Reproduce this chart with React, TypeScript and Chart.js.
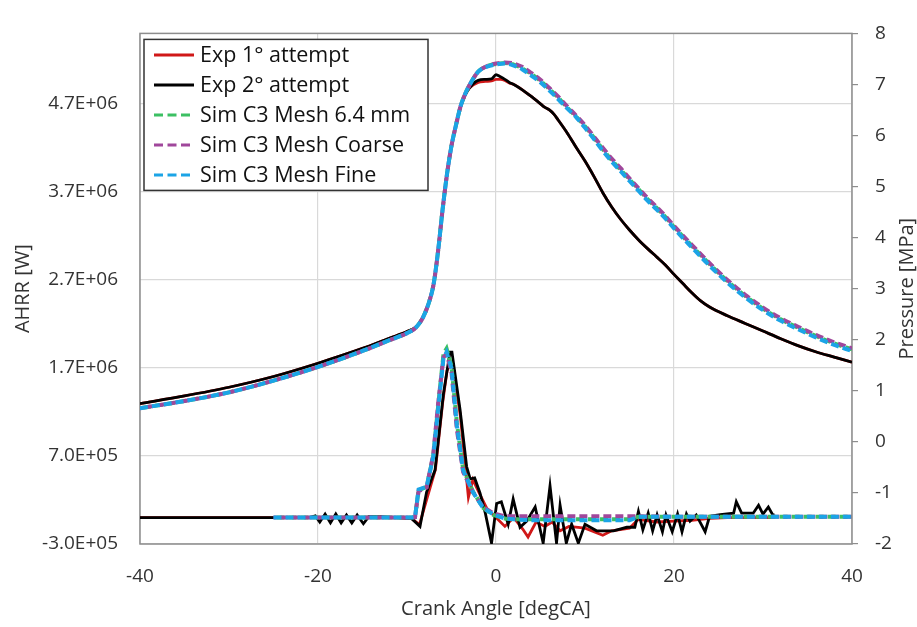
import React, { useEffect, useRef } from 'react';
import { Chart, registerables } from 'chart.js';

Chart.register(...registerables);

const FONT = "'Open Sans', 'Noto Sans', sans-serif";

// ---------- Legend / series ----------
const seriesLabels = ['Exp 1° attempt', 'Exp 2° attempt', 'Sim C3 Mesh 6.4 mm', 'Sim C3 Mesh Coarse', 'Sim C3 Mesh Fine'];
const seriesColors = ['#d01818', '#000000', '#3cc063', '#a0479b', '#1ba4e6'];
const seriesDashed = [false, false, true, true, true];

// ---------- Axis ticks ----------
const ahrrTicks = [-3e5, 7e5, 1.7e6, 2.7e6, 3.7e6, 4.7e6];
const xTicks = [-40, -20, 0, 20, 40];

// ---------- Pressure [MPa] (right axis) ----------
const expPAngles = [-40, -35, -30, -25, -20, -15, -12, -10, -9, -8.2, -7.5, -7, -6.5, -6, -5.5, -5, -4.5, -4, -3.5, -3, -2, -1.2, -0.5, 0, 0.5, 1, 1.5, 2, 3, 4, 5, 5.5, 6, 6.5, 7, 8, 9, 10, 11, 12, 13, 14, 15, 16, 17, 18, 19, 20, 21, 22, 23, 24, 26, 28, 30, 32, 34, 36, 38, 40];
const exp1Pressure = [0.75, 0.9, 1.07, 1.28, 1.54, 1.83, 2.03, 2.16, 2.25, 2.44, 2.75, 3.1, 3.75, 4.55, 5.25, 5.8, 6.2, 6.55, 6.78, 6.93, 7.04, 7.06, 7.07, 7.1, 7.1, 7.08, 7.03, 7.0, 6.89, 6.76, 6.62, 6.55, 6.5, 6.42, 6.3, 6.05, 5.77, 5.5, 5.2, 4.88, 4.6, 4.36, 4.15, 3.96, 3.79, 3.63, 3.47, 3.28, 3.1, 2.92, 2.76, 2.64, 2.47, 2.32, 2.17, 2.02, 1.88, 1.76, 1.66, 1.56];
const exp2Pressure = [0.75, 0.9, 1.07, 1.28, 1.54, 1.83, 2.03, 2.16, 2.25, 2.44, 2.75, 3.1, 3.75, 4.55, 5.25, 5.8, 6.2, 6.55, 6.78, 6.93, 7.08, 7.1, 7.11, 7.19, 7.15, 7.1, 7.04, 7.0, 6.89, 6.76, 6.62, 6.55, 6.5, 6.42, 6.3, 6.05, 5.77, 5.5, 5.2, 4.88, 4.6, 4.36, 4.15, 3.96, 3.79, 3.63, 3.47, 3.28, 3.1, 2.92, 2.76, 2.64, 2.47, 2.32, 2.17, 2.02, 1.88, 1.76, 1.66, 1.56];

const simPAngles = [-40, -35, -30, -25, -20, -15, -12, -10, -9, -8.2, -7.5, -7, -6.5, -6, -5.5, -5, -4.5, -4, -3.5, -3, -2, -1, 0, 1, 2, 3, 4, 5, 6, 7, 8, 9, 10, 11, 12, 13, 14, 15, 16, 17, 18, 19, 20, 22, 24, 26, 28, 30, 32, 34, 36, 38, 40];
const sim64Pressure = [0.66, 0.8, 0.97, 1.2, 1.47, 1.78, 1.99, 2.13, 2.24, 2.44, 2.75, 3.1, 3.75, 4.55, 5.25, 5.8, 6.2, 6.56, 6.8, 6.98, 7.25, 7.36, 7.4, 7.42, 7.39, 7.31, 7.2, 7.07, 6.91, 6.74, 6.55, 6.37, 6.18, 5.96, 5.73, 5.52, 5.33, 5.14, 4.95, 4.76, 4.59, 4.41, 4.21, 3.84, 3.48, 3.15, 2.86, 2.61, 2.4, 2.23, 2.07, 1.93, 1.81];
const simCoarsePressure = [0.66, 0.8, 0.97, 1.2, 1.47, 1.78, 1.99, 2.13, 2.24, 2.44, 2.75, 3.1, 3.75, 4.55, 5.25, 5.8, 6.2, 6.56, 6.8, 6.98, 7.25, 7.36, 7.41, 7.43, 7.41, 7.34, 7.22, 7.09, 6.93, 6.76, 6.57, 6.39, 6.2, 5.98, 5.76, 5.55, 5.36, 5.16, 4.97, 4.78, 4.61, 4.43, 4.23, 3.86, 3.5, 3.17, 2.88, 2.63, 2.42, 2.25, 2.09, 1.95, 1.83];
const simFinePressure = [0.66, 0.8, 0.97, 1.2, 1.47, 1.78, 1.99, 2.13, 2.24, 2.44, 2.75, 3.1, 3.75, 4.55, 5.25, 5.8, 6.2, 6.56, 6.8, 6.98, 7.25, 7.35, 7.39, 7.41, 7.37, 7.29, 7.17, 7.04, 6.88, 6.71, 6.53, 6.36, 6.15, 5.93, 5.7, 5.49, 5.3, 5.11, 4.92, 4.73, 4.56, 4.38, 4.18, 3.81, 3.45, 3.12, 2.83, 2.58, 2.37, 2.2, 2.04, 1.9, 1.78];

// ---------- AHRR [W] (left axis) ----------
const exp1AAngles = [-40, -25, -20, -15, -12, -9.5, -8.6, -7.8, -6.8, -6.0, -5.5, -5.1, -4.8, -4.0, -3.1, -2.6, -1.8, -1.0, 0, 1.0, 2.0, 3.0, 3.6, 4.5, 5.5, 6.3, 7.2, 8.2, 10, 12, 13, 15, 16, 18, 20, 22, 24, 26, 31.3];
const exp1AHRR = [0, 0, 0, 0, 0, -1e4, -8e4, 2e5, 5.5e5, 1.3e6, 1.67e6, 1.75e6, 1.7e6, 1.15e6, 2.3e5, 4.3e5, 2.6e5, 1e5, 0, -1e5, 0, -1.3e5, -2.2e5, -5e4, -1e5, -5e4, -1.5e5, -1e5, -1.2e5, -2e5, -1.5e5, -1.2e5, -2e4, -5e4, -4e4, -3e4, -1e4, 0, 0];

const exp2AAngles = [-40, -25, -21, -20.3, -19.8, -19.2, -18.6, -18.0, -17.4, -16.8, -16.2, -15.6, -14.9, -14.3, -13, -11, -9.5, -8.54, -7.8, -6.85, -5.9, -5.17, -4.95, -4.04, -3.3, -2.9, -2.4, -1.8, -1.2, -0.5, 0.07, 0.6, 1.37, 1.93, 2.7, 3.45, 4.4, 5.3, 6.07, 6.8, 7.2, 7.9, 8.5, 9.25, 10.0, 11.3, 13.2, 14.7, 15.6, 16.0, 16.5, 17.1, 17.6, 18.1, 18.7, 19.1, 19.8, 20.4, 20.9, 21.4, 21.8, 22.5, 23.5, 24.0, 25.2, 26.7, 27.0, 27.6, 28.9, 29.5, 30.0, 30.6, 31.1, 31.3];
const exp2AHRR = [0, 0, 0, 2e4, -5e4, 4e4, -6e4, 4e4, -6e4, 3e4, -6e4, 3e4, -7e4, 1e4, 1e4, 0, -1e4, -1e5, 2.9e5, 5.4e5, 1.41e6, 1.88e6, 1.88e6, 1.23e6, 5.8e5, 4.4e5, 4.5e5, 2.8e5, 5e4, -2.9e5, 1.6e5, 1.8e5, -7.5e4, 2.1e5, -1.1e5, -4e4, 1.2e5, -2.9e5, 3.6e5, -2.9e5, 1.4e5, -2.9e5, -7.5e4, -2.9e5, -7.5e4, -1.5e5, -1.5e5, -1.1e5, -1.1e5, 7e4, -1.4e5, 5e4, -1.5e5, 3e4, -1.6e5, 3e4, -1.6e5, 4e4, -1.6e5, 4e4, -4e4, 3e4, -1.6e5, 1.5e4, 3.3e4, 5e4, 1.8e5, 5e4, 5e4, 1.4e5, 4e4, 1.2e5, 3e4, 3e4];

const simAAngles = [-25, -20, -15, -12, -9.5, -9.1, -8.7, -7.8, -7.05, -6.5, -5.9, -5.55, -5.0, -4.4, -3.7, -2.6, -1.45, -0.3, 1, 2, 4, 8, 12, 15, 16, 20, 25, 30, 35, 40];
const sim64AHRR = [0, 0, 0, 0, 0, 5e3, 3.1e5, 3.5e5, 7.0e5, 1.27e6, 1.86e6, 1.92e6, 1.72e6, 1.08e6, 5.5e5, 3.0e5, 1.1e5, 3e4, -1e4, -2e4, -2e4, -2e4, -2e4, -2e4, 1e4, 1e4, 1e4, 1e4, 1e4, 1e4];
const simCoarseAHRR = [0, 0, 0, 0, 0, 5e3, 3.0e5, 3.4e5, 7.2e5, 1.3e6, 1.82e6, 1.86e6, 1.65e6, 1.0e6, 5.2e5, 2.9e5, 1.2e5, 5e4, 1.5e4, 1.5e4, 1.5e4, 1.5e4, 1.5e4, 1.5e4, 1.5e4, 1e4, 1e4, 1e4, 1e4, 1e4];
const simFineAHRR = [0, 0, 0, 0, 0, 5e3, 3.2e5, 3.5e5, 6.9e5, 1.23e6, 1.81e6, 1.88e6, 1.7e6, 1.05e6, 5.4e5, 2.9e5, 1.1e5, 3.6e4, -1e4, -2e4, -3e4, -3e4, -3e4, -3e4, 1e4, 1e4, 1e4, 1e4, 1e4, 1e4];

const pts = (xs: number[], ys: number[]) => xs.map((x, i) => ({ x, y: ys[i] }));

const fmtE = (v: number) => {
  const [m, e] = Number(v).toExponential(1).split('e');
  const sign = e[0] === '-' ? '-' : '+';
  const digits = e.replace(/^[+-]/, '').padStart(2, '0');
  return `${m}E${sign}${digits}`;
};

const DASH = [8, 4];

function makeSet(idx: number, data: { x: number; y: number }[], axis: string, order: number, smooth: boolean, dashOffset = 0) {
  return {
    label: seriesLabels[idx],
    data,
    yAxisID: axis,
    borderColor: seriesColors[idx],
    backgroundColor: seriesColors[idx],
    borderWidth: seriesDashed[idx] ? 4 : 2.8,
    borderDash: seriesDashed[idx] ? DASH : [],
    borderDashOffset: dashOffset,
    pointRadius: 0,
    fill: false,
    order,
    cubicInterpolationMode: smooth ? 'monotone' : 'default',
    tension: 0,
  };
}

const framePlugin = {
  id: 'frame',
  beforeDatasetsDraw(chart: any) {
    const { ctx, chartArea: a } = chart;
    ctx.save();
    ctx.strokeStyle = '#8d8d8d';
    ctx.lineWidth = 1.5;
    ctx.strokeRect(a.left, a.top, a.right - a.left, a.bottom - a.top);
    ctx.restore();
  },
};

const overlayPlugin = {
  id: 'overlay',
  afterDraw(chart: any) {
    const { ctx, chartArea: a } = chart;
    ctx.save();
    // Right axis title (reads bottom to top)
    ctx.translate(907, (a.top + a.bottom) / 2);
    ctx.rotate(-Math.PI / 2);
    ctx.font = `20px ${FONT}`;
    ctx.fillStyle = '#333';
    ctx.textAlign = 'center';
    ctx.textBaseline = 'middle';
    ctx.fillText('Pressure [MPa]', 0, 0);
    ctx.restore();

    // Legend box
    const bx = a.left + 4;
    const by = a.top + 6;
    const bw = 284;
    const bh = 151;
    ctx.save();
    ctx.fillStyle = '#ffffff';
    ctx.fillRect(bx, by, bw, bh);
    ctx.strokeStyle = '#333';
    ctx.lineWidth = 1.5;
    ctx.strokeRect(bx, by, bw, bh);
    ctx.font = `21.5px ${FONT}`;
    ctx.textBaseline = 'middle';
    ctx.textAlign = 'left';
    seriesLabels.forEach((lab, i) => {
      const cy = by + 15.7 + 30 * i;
      ctx.beginPath();
      ctx.strokeStyle = seriesColors[i];
      ctx.lineWidth = 3;
      ctx.setLineDash(seriesDashed[i] ? [9, 4.5] : []);
      ctx.moveTo(bx + 10, cy);
      ctx.lineTo(bx + 50, cy);
      ctx.stroke();
      ctx.setLineDash([]);
      ctx.fillStyle = '#111';
      ctx.fillText(lab, bx + 56, cy + 1);
    });
    ctx.restore();
  },
};

export default function App() {
  const ref = useRef<HTMLCanvasElement | null>(null);
  useEffect(() => {
    if (!ref.current) return;
    const tickFont = { family: FONT, size: 19 };
    const datasets: any[] = [
      makeSet(4, pts(simPAngles, simFinePressure), 'yP', 1, true, 0),
      makeSet(4, pts(simAAngles, simFineAHRR), 'y', 1, false, 0),
      makeSet(3, pts(simPAngles, simCoarsePressure), 'yP', 2, true, 5),
      makeSet(3, pts(simAAngles, simCoarseAHRR), 'y', 2, false, 5),
      makeSet(2, pts(simPAngles, sim64Pressure), 'yP', 3, true, 9),
      makeSet(2, pts(simAAngles, sim64AHRR), 'y', 3, false, 9),
      makeSet(1, pts(expPAngles, exp2Pressure), 'yP', 4, true),
      makeSet(1, pts(exp2AAngles, exp2AHRR), 'y', 4, false),
      makeSet(0, pts(expPAngles, exp1Pressure), 'yP', 5, true),
      makeSet(0, pts(exp1AAngles, exp1AHRR), 'y', 5, false),
    ];
    const chart = new Chart(ref.current, {
      type: 'line',
      data: { datasets },
      plugins: [framePlugin, overlayPlugin],
      options: {
        responsive: false,
        animation: false,
        devicePixelRatio: 1,
        parsing: true,
        layout: { padding: { top: 10, left: 0, right: 0, bottom: 0 } },
        plugins: { legend: { display: false }, tooltip: { enabled: false }, title: { display: false } },
        scales: {
          x: {
            type: 'linear',
            min: -40,
            max: 40,
            afterBuildTicks: (s: any) => { s.ticks = xTicks.map((v) => ({ value: v })); },
            ticks: { font: tickFont, color: '#333', padding: 21, callback: (v: any) => String(v) },
            grid: { color: '#d9d9d9', lineWidth: 1.2, drawTicks: false },
            border: { display: false },
            title: { display: true, text: 'Crank Angle [degCA]', font: { family: FONT, size: 20 }, color: '#333', padding: { top: 0, bottom: 6 } },
            afterFit: (s: any) => { s.height = 83; },
          },
          y: {
            type: 'linear',
            position: 'left',
            min: -3e5,
            max: 5.5e6,
            afterBuildTicks: (s: any) => { s.ticks = ahrrTicks.map((v) => ({ value: v })); },
            ticks: { font: tickFont, color: '#333', padding: 22, callback: (v: any) => fmtE(v) },
            grid: { color: '#d9d9d9', lineWidth: 1.2, drawTicks: false },
            border: { display: false },
            title: { display: true, text: 'AHRR [W]', font: { family: FONT, size: 20 }, color: '#333', padding: { top: 11, bottom: 0 } },
            afterFit: (s: any) => { s.width = 140; },
          },
          yP: {
            type: 'linear',
            position: 'right',
            min: -2,
            max: 8,
            ticks: { stepSize: 1, font: tickFont, color: '#333', padding: 17 },
            grid: { drawOnChartArea: false, drawTicks: true, tickLength: 6, color: '#8d8d8d', lineWidth: 1.2 },
            border: { display: false },
            afterFit: (s: any) => { s.width = 65; },
          },
        },
      },
    } as any);
    return () => chart.destroy();
  }, []);
  return (
    <div style={{ position: 'fixed', left: 0, top: 0, width: 917, height: 627, background: '#fff' }}>
      <canvas ref={ref} width={917} height={627} style={{ display: 'block', width: 917, height: 627 }} />
    </div>
  );
}
